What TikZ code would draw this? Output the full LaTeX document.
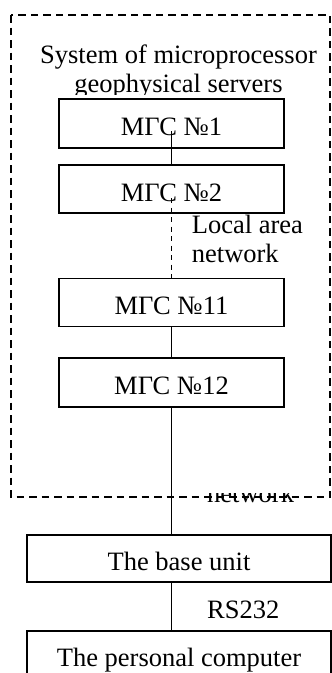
\documentclass[tikz,border=0pt]{standalone}
\usepackage{fontspec}
\setmainfont{Liberation Serif}
\begin{document}
\begin{tikzpicture}[x=1pt,y=-1pt,
  txt/.style={font=\fontsize{26.5}{29}\selectfont, inner sep=0pt},
  unitbox/.style={draw, line width=1.6pt, inner sep=0pt, font=\fontsize{26.5}{29}\selectfont,
     text height=24pt, text depth=0pt},
  wire/.style={line width=1.4pt},
  lanwire/.style={line width=1.4pt, dash pattern=on 5pt off 4.5pt},
  sysframe/.style={line width=1.8pt, dash pattern=on 7.5pt off 5pt}]
\useasboundingbox (0,0) rectangle (332,673);
% system frame
\draw[sysframe] (11,15) rectangle (330,497);
% title (clipped at the top of the first box)
\begin{scope}
\clip (0,0) rectangle (332,94);
\node[txt, align=center, anchor=base] (title) at (178.5,92) {System of microprocessor\\geophysical servers};
\end{scope}
% servers
\node[unitbox, minimum width=225pt, minimum height=49pt] (m1) at (171.5,123.5) {МГС №1};
\node[unitbox, minimum width=225pt, minimum height=48pt] (m2) at (171.5,189) {МГС №2};
\node[unitbox, minimum width=225pt, minimum height=48pt] (m11) at (171.5,302.5) {МГС №11};
\node[unitbox, minimum width=225pt, minimum height=49pt] (m12) at (171.5,382.5) {МГС №12};
\node[unitbox, minimum width=304pt, minimum height=47pt] (base) at (179,558.5) {The base unit};
\node[unitbox, minimum width=304pt, minimum height=46pt] (pc) at (179,654) {The personal computer};
% connectors
\coordinate (c1) at (171.7,131);
\coordinate (c2) at (171.7,198);
\draw[wire] (c1) -- (c1 |- m2.north);
\draw[lanwire] (c2) -- (c2 |- m11.north);
\draw[wire] (c1 |- m11.south) -- (c1 |- m12.north);
\draw[wire] (c1 |- m12.south) -- (c1 |- base.north);
\draw[wire] (c1 |- base.south) -- (c1 |- pc.north);
% labels
\node[txt, align=left, anchor=base west] (lan) at (191.7,262.3) {Local area\\network};
\node[txt, anchor=base west] (rs) at (207,618) {RS232};
\begin{scope}
\clip (0,493) rectangle (332,520);
\node[txt, anchor=base west] (net2) at (207,502) {network};
\end{scope}
\end{tikzpicture}
\end{document}
